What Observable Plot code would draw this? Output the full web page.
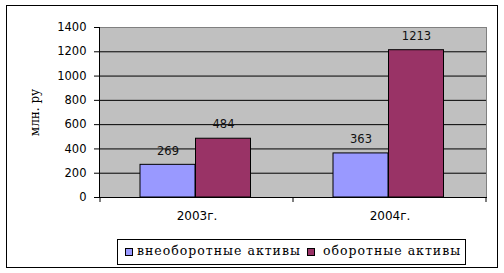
<!DOCTYPE html>
<html><head><meta charset="utf-8">
<script src="https://cdn.jsdelivr.net/npm/d3@7"></script>
<script src="https://cdn.jsdelivr.net/npm/@observablehq/plot@0.6"></script>
<style>
body{margin:0;background:#fff;}
#wrap{position:relative;width:504px;height:273px;overflow:hidden;background:#fff;}
#border{position:absolute;left:6px;top:5px;width:490px;height:261px;border:1px solid #000;}
#chart{position:absolute;left:0;top:0;}
#legend{position:absolute;left:117px;top:239px;width:347px;height:24px;border:1px solid #000;background:#fff;font-family:"DejaVu Serif";font-size:12.5px;color:#000;}
.sw{position:absolute;top:8px;width:6px;height:6px;border:1px solid #000;}
.lt{position:absolute;top:3px;white-space:nowrap;letter-spacing:1px;}
</style></head>
<body><div id="wrap"><div id="border"></div><div id="chart"></div><div id="legend"></div></div>
<script>
const years = ["2003г.", "2004г."];
const seriesNames = ["внеоборотные активы", "оборотные активы"];
const seriesColors = ["#9999ff", "#993366"];
const nonCurrent = [269, 363];
const current = [484, 1213];
const yTicks = [0, 200, 400, 600, 800, 1000, 1200, 1400];
const yLabel = "млн. ру";

const d1 = years.map((y, i) => ({year: y, value: nonCurrent[i]}));
const d2 = years.map((y, i) => ({year: y, value: current[i]}));

const plot = Plot.plot({
  width: 504, height: 230,
  marginLeft: 99, marginRight: 18, marginTop: 27, marginBottom: 33,
  style: {fontFamily: "DejaVu Sans", fontSize: "11.5px", background: "transparent", color: "#000", overflow: "visible"},
  x: {domain: years, padding: 0, axis: null},
  y: {domain: [0, 1400], axis: null},
  marks: [
    Plot.frame({fill: "#c0c0c0", stroke: "#808080"}),
    Plot.gridY(yTicks.filter(v => v > 0 && v < 1400), {stroke: "#000", strokeOpacity: 1}),
    Plot.barY(d1, {x: "year", y1: 0, y2: "value", fill: seriesColors[0], stroke: "#000", insetLeft: 40, insetRight: 98}),
    Plot.barY(d2, {x: "year", y1: 0, y2: "value", fill: seriesColors[1], stroke: "#000", insetLeft: 95.5, insetRight: 42.5}),
    Plot.text(d1, {x: "year", y: "value", text: d => String(d.value), dx: -29, dy: -14, fill: "#111"}),
    Plot.text(d2, {x: "year", y: "value", text: d => String(d.value), dx: 26.5, dy: -14, fill: "#111"}),
    Plot.frame({anchor: "left", stroke: "#000"}),
    Plot.frame({anchor: "bottom", stroke: "#000"}),
    Plot.axisY({ticks: yTicks, tickFormat: d => String(d), tickSize: 5, tickPadding: 8, label: null, stroke: "#000"}),
    Plot.axisX({tickSize: 0, tickPadding: 14, label: null, fontSize: 12}),
    Plot.text([yLabel], {frameAnchor: "left", textAnchor: "middle", dx: -64, rotate: -90, fontFamily: "DejaVu Serif", fontSize: 12, letterSpacing: 0.5})
  ]
});
document.getElementById("chart").appendChild(plot);

// boundary ticks on the category axis, positioned by Plot's x scale
const xs = plot.scale("x");
const ys = plot.scale("y");
const y0 = ys.apply(0);
const edges = years.map(y => xs.apply(y)).concat([xs.apply(years[years.length - 1]) + xs.bandwidth]);
d3.select(plot).append("g").selectAll("line").data(edges).join("line")
  .attr("x1", d => d).attr("x2", d => d)
  .attr("y1", y0).attr("y2", y0 + 5)
  .attr("stroke", "#000");

// legend
const lg = document.getElementById("legend");
const swX = [7, 189];
const txX = [19, 205];
seriesNames.forEach((n, i) => {
  const s = document.createElement("div");
  s.className = "sw"; s.style.left = swX[i] + "px"; s.style.background = seriesColors[i];
  lg.appendChild(s);
  const t = document.createElement("div");
  t.className = "lt"; t.style.left = txX[i] + "px"; t.textContent = n;
  lg.appendChild(t);
});
</script></body></html>
